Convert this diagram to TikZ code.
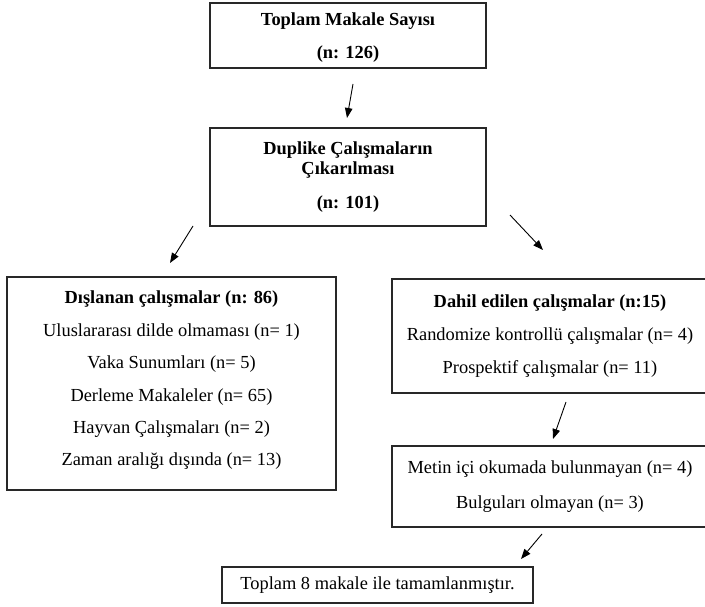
\documentclass[tikz,border=0pt]{standalone}
\usepackage{fontspec}
\setmainfont{Liberation Serif}
\usetikzlibrary{arrows.meta,positioning,calc}
\definecolor{boxLine}{RGB}{40,40,40}
\tikzset{
    flowbox/.style={rectangle, draw=boxLine, line width=1.4pt, inner sep=0pt,
        align=center, font=\fontsize{18.4}{31.6}\selectfont},
    arr/.style={-{Triangle[length=10pt,width=7.5pt]}, line width=0.9pt, black},
}

\begin{document}
\begin{tikzpicture}[x=1pt,y=-1pt]
\useasboundingbox (0,0) rectangle (705,607);

% Total articles
\node[flowbox, minimum width=276pt, minimum height=65pt, text depth=-8pt,
    font=\fontsize{18.4}{33}\selectfont\bfseries] (total) at (348,35.5)
    {Toplam Makale Sayısı\\(n: 126)};

% Duplicates removed
\node[flowbox, minimum width=276pt, minimum height=98pt,
    font=\fontsize{18.4}{20.5}\selectfont\bfseries] (dup) at (348,177)
    {Duplike Çalışmaların\\Çıkarılması\\[13.5pt](n: 101)};

% Excluded
\node[flowbox, minimum width=329pt, minimum height=213pt, text depth=10pt,
    font=\fontsize{18.4}{32.4}\selectfont] (excl) at (171.5,383.5)
    {\textbf{Dışlanan çalışmalar (n: 86)}\\
     Uluslararası dilde olmaması (n= 1)\\
     Vaka Sunumları (n= 5)\\
     Derleme Makaleler (n= 65)\\
     Hayvan Çalışmaları (n= 2)\\
     Zaman aralığı dışında (n= 13)};

% Included
\node[flowbox, minimum width=316pt, minimum height=114pt,
    font=\fontsize{18.4}{33}\selectfont] (incl) at (550,336)
    {\textbf{Dahil edilen çalışmalar (n:15)}\\
     Randomize kontrollü çalışmalar (n= 4)\\
     Prospektif çalışmalar (n= 11)};

% Not found in full text
\node[flowbox, minimum width=316pt, minimum height=81pt,
    font=\fontsize{18.4}{35}\selectfont] (miss) at (550,486.5)
    {Metin içi okumada bulunmayan (n= 4)\\
     Bulguları olmayan (n= 3)};

% Final
\node[flowbox, minimum width=311pt, minimum height=36pt] (final) at (377.5,585)
    {Toplam 8 makale ile tamamlanmıştır.};

% Arrow ends
\coordinate (a1s) at (353,84);
\coordinate (a1e) at (347,118);
\coordinate (a2s) at (193,226);
\coordinate (a2e) at (170,263);
\coordinate (a3s) at (510,215);
\coordinate (a3e) at (543,250);
\coordinate (a4s) at (566,402);
\coordinate (a4e) at (553,439);
\coordinate (a5s) at (542,534);
\coordinate (a5e) at (521,559);

% Arrows
\draw[arr] (a1s) -- (a1e);
\draw[arr] (a2s) -- (a2e);
\draw[arr] (a3s) -- (a3e);
\draw[arr] (a4s) -- (a4e);
\draw[arr] (a5s) -- (a5e);

\end{tikzpicture}
\end{document}
